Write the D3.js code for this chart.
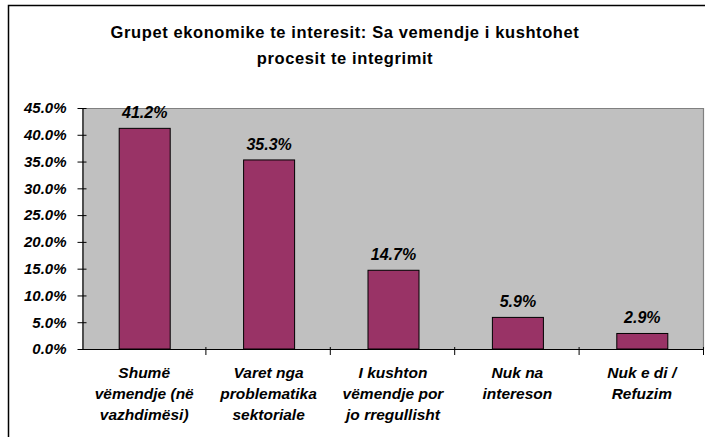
<!DOCTYPE html>
<html>
<head>
<meta charset="utf-8">
<script src="https://cdn.jsdelivr.net/npm/d3@7"></script>
<style>
  html, body { margin: 0; padding: 0; background: #fff; }
  svg { display: block; }
  text { font-family: Arial, "Liberation Sans", sans-serif; }
</style>
</head>
<body>
<svg id="chart" width="705" height="437"></svg>
<script>
const titleLines = ["Grupet ekonomike te interesit: Sa vemendje i kushtohet", "procesit te integrimit"];
const categories = [
  ["Shumë", "vëmendje (në", "vazhdimësi)"],
  ["Varet nga", "problematika", "sektoriale"],
  ["I kushton", "vëmendje por", "jo rregullisht"],
  ["Nuk na", "intereson"],
  ["Nuk e di /", "Refuzim"]
];
const values = [41.2, 35.3, 14.7, 5.9, 2.9];
const yTicks = [0, 5, 10, 15, 20, 25, 30, 35, 40, 45];

const svg = d3.select("#chart");
const plot = { left: 82, right: 704, top: 108, bottom: 349 };

// outer chart border
svg.append("path")
  .attr("d", `M8.5,437 L8.5,5.5 L705,5.5`)
  .attr("fill", "none").attr("stroke", "#000").attr("stroke-width", 1.5);

// title
svg.append("text")
  .attr("x", 345).attr("y", 38)
  .attr("text-anchor", "middle")
  .attr("font-size", 16.5).attr("font-weight", "bold")
  .attr("letter-spacing", 0.6)
  .selectAll("tspan").data(titleLines).join("tspan")
  .attr("x", 345).attr("dy", (d, i) => i === 0 ? 0 : 26)
  .text(d => d);

const x = d3.scaleBand()
  .domain(d3.range(values.length))
  .range([plot.left, plot.right])
  .paddingInner(0.59).paddingOuter(0.295);
const xOuter = d3.scaleBand().domain(d3.range(values.length)).range([plot.left, plot.right]);
const y = d3.scaleLinear().domain([0, 45]).range([plot.bottom, plot.top]);

// plot background
svg.append("rect")
  .attr("x", plot.left).attr("y", plot.top)
  .attr("width", plot.right - plot.left).attr("height", plot.bottom - plot.top)
  .attr("fill", "#c0c0c0");
svg.append("path")
  .attr("d", `M${plot.left},${plot.top + 0.5} L${plot.right - 0.5},${plot.top + 0.5} L${plot.right - 0.5},${plot.bottom}`)
  .attr("fill", "none").attr("stroke", "#808080").attr("stroke-width", 1.2);

// bars
svg.append("g").selectAll("rect").data(values).join("rect")
  .attr("x", (d, i) => x(i) + 0.5)
  .attr("y", d => y(d))
  .attr("width", x.bandwidth())
  .attr("height", d => y(0) - y(d))
  .attr("fill", "#993366")
  .attr("stroke", "#000").attr("stroke-width", 1);

// value labels
svg.append("g").selectAll("text").data(values).join("text")
  .attr("x", (d, i) => x(i) + x.bandwidth() / 2 + 0.5)
  .attr("y", d => y(d) - 10)
  .attr("text-anchor", "middle")
  .attr("font-size", 16).attr("font-weight", "bold").attr("font-style", "italic")
  .text(d => d.toFixed(1) + "%");

// y axis
const yAxis = d3.axisLeft(y).tickValues(yTicks)
  .tickFormat(d => d.toFixed(1) + "%").tickSize(5).tickSizeOuter(0).tickPadding(11);
const gy = svg.append("g").attr("transform", `translate(${plot.left + 0.5},0)`).call(yAxis);
gy.select(".domain").attr("stroke", "#000").attr("stroke-width", 1.2);
gy.selectAll(".tick line").attr("x2", 4).attr("x1", -5).attr("stroke", "#000");
gy.selectAll(".tick text")
  .attr("font-size", 15).attr("font-weight", "bold").attr("font-style", "italic")
  .attr("font-family", "Arial, 'Liberation Sans', sans-serif").attr("fill", "#000");

// x axis line and boundary ticks
svg.append("line")
  .attr("x1", plot.left).attr("x2", plot.right)
  .attr("y1", plot.bottom + 0.5).attr("y2", plot.bottom + 0.5)
  .attr("stroke", "#000").attr("stroke-width", 1.2);
const boundaries = d3.range(values.length + 1).map(i => i < values.length ? xOuter(i) : plot.right);
svg.append("g").selectAll("line").data(boundaries.slice(1)).join("line")
  .attr("x1", d => d - 0.5).attr("x2", d => d - 0.5)
  .attr("y1", plot.bottom - 2).attr("y2", plot.bottom + 6)
  .attr("stroke", "#000");

// category labels
const cat = svg.append("g").selectAll("text").data(categories).join("text")
  .attr("text-anchor", "middle")
  .attr("font-size", 15.5).attr("font-weight", "bold").attr("font-style", "italic");
cat.each(function(lines, i) {
  const cx = xOuter(i) + xOuter.bandwidth() / 2;
  d3.select(this).selectAll("tspan").data(lines).join("tspan")
    .attr("x", cx).attr("y", (d, j) => 378 + j * 21)
    .text(d => d);
});
</script>
</body>
</html>
